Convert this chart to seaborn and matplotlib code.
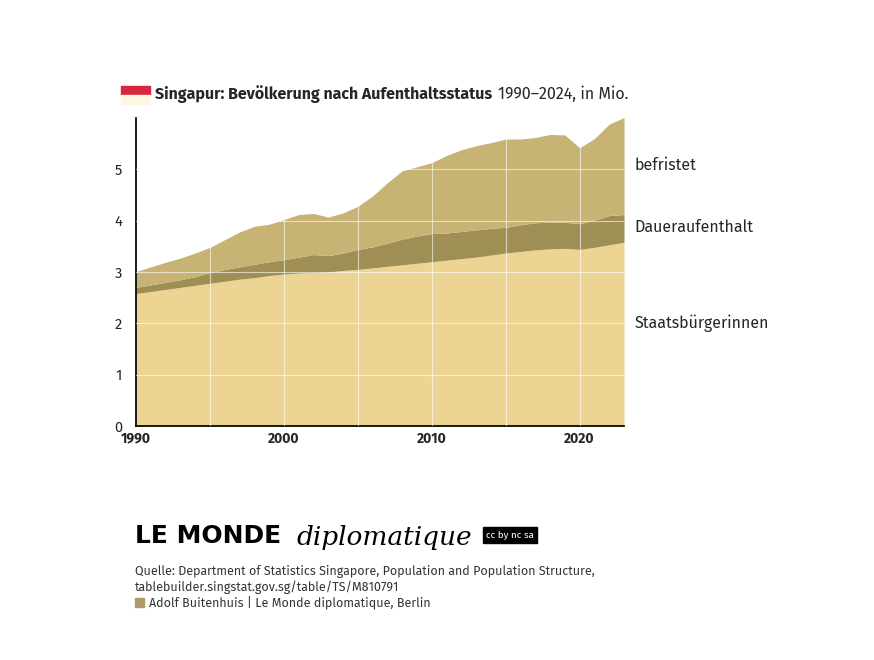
import matplotlib
matplotlib.use("Agg")
import matplotlib.pyplot as plt
import seaborn as sns

years = list(range(1990, 2024))
# Staatsbürgerinnen, Mio.
citizens = [2.58, 2.62, 2.66, 2.70, 2.74, 2.78, 2.82, 2.86, 2.89, 2.93, 2.96, 2.98, 2.99, 3.00, 3.03, 3.05,
            3.08, 3.11, 3.14, 3.17, 3.20, 3.23, 3.26, 3.29, 3.33, 3.37, 3.40, 3.43, 3.45, 3.46, 3.44, 3.48, 3.53, 3.58]
# Daueraufenthalt
permanent = [0.12, 0.13, 0.14, 0.15, 0.17, 0.21, 0.23, 0.24, 0.26, 0.27, 0.28, 0.31, 0.35, 0.32, 0.34, 0.39,
             0.41, 0.45, 0.50, 0.53, 0.55, 0.53, 0.53, 0.53, 0.52, 0.50, 0.52, 0.53, 0.52, 0.51, 0.50, 0.53, 0.57, 0.54]
# Gesamtbevölkerung (obere Kante)
total = [3.01, 3.10, 3.19, 3.27, 3.37, 3.48, 3.63, 3.78, 3.89, 3.93, 4.02, 4.12, 4.14, 4.07, 4.15, 4.28,
         4.48, 4.74, 4.97, 5.05, 5.13, 5.27, 5.38, 5.46, 5.52, 5.59, 5.59, 5.62, 5.68, 5.67, 5.42, 5.60, 5.88, 6.01]
labels = ["Staatsbürgerinnen", "Daueraufenthalt", "befristet"]
label_y = [2.0, 3.87, 5.08]
colors = ["#ecd592", "#a08f55", "#c7b373"]

temporary = [t - c - p for t, c, p in zip(total, citizens, permanent)]

sns.set_theme(style="white")
plt.rcParams["font.family"] = ["Fira Sans", "Open Sans", "DejaVu Sans"]

fig = plt.figure(figsize=(8.74, 6.6), dpi=100)
ax = fig.add_axes([136 / 874, 1 - 426 / 660, (624 - 136) / 874, (426 - 118) / 660])
ax.stackplot(years, citizens, permanent, temporary, colors=colors, linewidth=0)
ax.set_xlim(1990, 2023)
ax.set_ylim(0, 6.0)
ax.set_yticks([0, 1, 2, 3, 4, 5])
ax.set_xticks([1990, 2000, 2010, 2020])
for x in [1995, 2000, 2005, 2010, 2015, 2020]:
    ax.axvline(x, color="white", lw=0.8, alpha=0.6, zorder=3)
for y in [1, 2, 3, 4, 5]:
    ax.axhline(y, color="white", lw=0.8, alpha=0.6, zorder=3)
for s in ["top", "right"]:
    ax.spines[s].set_visible(False)
ax.spines["left"].set_color("black")
ax.spines["bottom"].set_color("black")
ax.tick_params(axis="y", labelsize=10.5, length=0, pad=10)
ax.tick_params(axis="x", labelsize=10, length=0, pad=4)
for lab in ax.get_xticklabels():
    lab.set_fontweight("bold")

for txt, y in zip(labels, label_y):
    ax.text(2023.7, y, txt, fontsize=11.5, va="center", ha="left", clip_on=False)

# flag and title
fig.patches.append(plt.Rectangle((121 / 874, 1 - 95 / 660), 29 / 874, 9 / 660,
                                 transform=fig.transFigure, color="#d7263d"))
fig.patches.append(plt.Rectangle((121 / 874, 1 - 104 / 660), 29 / 874, 9 / 660,
                                 transform=fig.transFigure, color="#fdf6e3"))
title = fig.text(155 / 874, 1 - 94 / 660, "Singapur: Bevölkerung nach Aufenthaltsstatus", fontsize=11.5,
                 fontweight="bold", va="center")
fig.canvas.draw()
bb = title.get_window_extent()
fig.text(bb.x1 / 874 + 6 / 874, 1 - 94 / 660, "1990–2024, in Mio.", fontsize=11.5, va="center")

# footer
fig.text(135 / 874, 1 - 536 / 660, "LE MONDE", fontsize=18, fontweight="bold",
         family=["DejaVu Sans"], va="center", color="black")
fig.text(296 / 874, 1 - 538 / 660, "diplomatique", fontsize=19, style="italic",
         family=["DejaVu Serif"], va="center", color="black")
fig.text(486 / 874, 1 - 535 / 660, "cc by nc sa", fontsize=7, color="white", va="center",
         bbox=dict(boxstyle="square,pad=0.35", fc="black", ec="black"))
fig.text(135 / 874, 1 - 572 / 660, "Quelle: Department of Statistics Singapore, Population and Population Structure,",
         fontsize=9, color="#333333", va="center")
fig.text(135 / 874, 1 - 587 / 660, "tablebuilder.singstat.gov.sg/table/TS/M810791", fontsize=9,
         color="#333333", va="center")
fig.patches.append(plt.Rectangle((135 / 874, 1 - 607 / 660), 9 / 874, 9 / 660,
                                 transform=fig.transFigure, color="#b09a6b"))
fig.text(149 / 874, 1 - 602 / 660, "Adolf Buitenhuis | Le Monde diplomatique, Berlin", fontsize=9,
         color="#333333", va="center")

fig.savefig("out.png", dpi=100)
